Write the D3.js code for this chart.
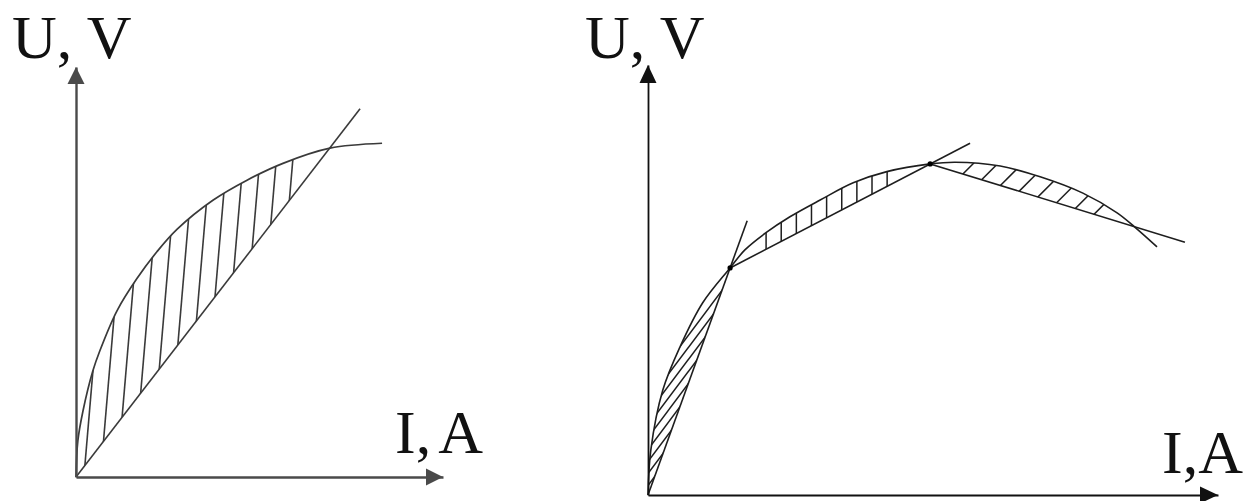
<!DOCTYPE html>
<html>
<head>
<meta charset="utf-8">
<script src="https://cdn.jsdelivr.net/npm/d3@7"></script>
<style>
  html, body { margin: 0; padding: 0; background: #fff; }
  svg { display: block; }
</style>
</head>
<body>
<svg id="chart" width="1248" height="501"></svg>
<script>
// ---- Axis labels ----
const yLabel = "U, V";
const xLabelLeft = ["I,", "A"];
const xLabelRight = "I,A";

// ---- Left diagram: U(I) characteristic and its single straight-line approximation ----
const leftCurveI = [0, 0.05, 0.19, 0.46, 0.65, 1.12, 1.66, 2.21, 2.75, 3.73, 4.66, 5.64, 6.92, 8.34];
const leftCurveU = [0, 0.88, 1.61, 2.59, 3.08, 4.06, 4.84, 5.50, 6.04, 6.75, 7.24, 7.65, 8.02, 8.14];
const leftLineI = [0, 7.74];
const leftLineU = [0, 8.98];
// I range of the shaded area between the curve and the line
const leftShadeI = [0, 6.92];

// ---- Right diagram: same kind of characteristic, piecewise-linear approximation ----
const rightCurveI = [0, 0.05, 0.26, 0.56, 0.96, 1.44, 1.70, 2.07, 2.49, 3.02, 3.60, 4.19, 4.95, 5.39, 6.18, 6.88, 7.63, 8.23, 8.54, 8.93];
const rightCurveU = [0, 1.05, 2.44, 3.44, 4.47, 5.28, 5.70, 6.10, 6.47, 6.86, 7.26, 7.52, 7.70, 7.74, 7.65, 7.40, 7.02, 6.56, 6.23, 5.77];
// each segment starts at a breakpoint and is drawn a little past the next one
const rightSegStartI = [0, 1.44, 4.95];
const rightSegStartU = [0, 5.28, 7.70];
const rightSegEndI = [1.74, 5.65, 9.42];
const rightSegEndU = [6.38, 8.18, 5.88];
// I where each segment meets the curve again (end of its shaded area)
const rightMeetI = [1.44, 4.95, 8.54];
// breakpoints marked with dots
const rightKnotI = [1.44, 4.95];
const rightKnotU = [5.28, 7.70];

const svg = d3.select("#chart");
const defs = svg.append("defs");

const zip = (a, b) => a.map((v, i) => [v, b[i]]);

function makeLine(x, y) {
  return d3.line()
    .x(p => x(p[0]))
    .y(p => y(p[1]))
    .curve(d3.curveCatmullRom.alpha(0.5));
}

// Hatching of the area enclosed by the curve between I=a..b and the straight chord
function hatch(g, id, x, y, curvePts, a, b, spec, style) {
  const pts = curvePts.filter(p => p[0] >= a - 1e-9 && p[0] <= b + 1e-9);
  defs.append("clipPath").attr("id", id)
    .append("path").attr("d", makeLine(x, y)(pts) + "Z");
  const s = [x(pts[0][0]), y(pts[0][1])];
  const e = [x(pts[pts.length - 1][0]), y(pts[pts.length - 1][1])];
  const dl = Math.hypot(spec.dir[0], spec.dir[1]);
  const ux = spec.dir[0] / dl, uy = spec.dir[1] / dl;
  const fs = d3.range(spec.n).map(k => spec.f0 + (spec.f1 - spec.f0) * k / (spec.n - 1));
  const L = 260;
  g.append("g").attr("clip-path", `url(#${id})`)
    .selectAll("line").data(fs).join("line")
    .attr("x1", f => s[0] + (e[0] - s[0]) * f - ux * L)
    .attr("y1", f => s[1] + (e[1] - s[1]) * f - uy * L)
    .attr("x2", f => s[0] + (e[0] - s[0]) * f + ux * L)
    .attr("y2", f => s[1] + (e[1] - s[1]) * f + uy * L)
    .attr("stroke", style.color)
    .attr("stroke-width", style.width);
}

function axes(g, x, y, style) {
  const ax = g.append("g").attr("transform", `translate(0,${y(0)})`)
    .call(d3.axisBottom(x).ticks(0).tickSizeOuter(0));
  const ay = g.append("g").attr("transform", `translate(${x(0)},0)`)
    .call(d3.axisLeft(y).ticks(0).tickSizeOuter(0));
  [ax, ay].forEach(a => a.select(".domain")
    .attr("stroke", style.color).attr("stroke-width", style.width));
  const xe = x.range()[1], ye = y.range()[1], x0 = x(0), y0 = y(0);
  const h = style.head, w = style.half;
  g.append("path")
    .attr("d", `M${xe},${y0}L${xe - h},${y0 - w}L${xe - h},${y0 + w}Z`)
    .attr("fill", style.color);
  g.append("path")
    .attr("d", `M${x0},${ye}L${x0 - w},${ye + h}L${x0 + w},${ye + h}Z`)
    .attr("fill", style.color);
}

function label(g, px, py, parts) {
  const t = g.append("text")
    .attr("x", px).attr("y", py)
    .attr("font-family", "'Liberation Serif', 'Times New Roman', serif")
    .attr("font-size", 62)
    .attr("fill", "#111");
  if (typeof parts === "string") t.text(parts);
  else {
    t.append("tspan").text(parts[0]);
    t.append("tspan").attr("dx", 7).text(parts[1]);
  }
}

// ================= Left diagram =================
{
  const g = svg.append("g");
  const x = d3.scaleLinear().domain([0, 10]).range([76, 443]);
  const y = d3.scaleLinear().domain([0, 10]).range([477, 67]);
  const curve = zip(leftCurveI, leftCurveU);
  const ink = "#3a3a3a";

  hatch(g, "clipL", x, y, curve, leftShadeI[0], leftShadeI[1],
        { n: 12, f0: 0.035, f1: 0.84, dir: [0.085, -1] },
        { color: ink, width: 1.6 });

  g.append("path").attr("d", makeLine(x, y)(curve))
    .attr("fill", "none").attr("stroke", ink).attr("stroke-width", 1.7);
  g.append("path").attr("d", d3.line().x(p => x(p[0])).y(p => y(p[1]))(zip(leftLineI, leftLineU)))
    .attr("fill", "none").attr("stroke", ink).attr("stroke-width", 1.6);

  axes(g, x, y, { color: "#4a4a4a", width: 2.4, head: 17, half: 8.5 });

  label(g, x(0) - 64, y(10) - 9, yLabel);
  label(g, x(10) - 48, y(0) - 24, xLabelLeft);
}

// ================= Right diagram =================
{
  const g = svg.append("g");
  const x = d3.scaleLinear().domain([0, 10]).range([648, 1218]);
  const y = d3.scaleLinear().domain([0, 10]).range([495, 65]);
  const curve = zip(rightCurveI, rightCurveU);
  const ink = "#1e1e1e";

  const specs = [
    { n: 9, f0: 0.08, f1: 0.9, dir: [0.75, -1] },
    { n: 9, f0: 0.18, f1: 0.785, dir: [0, -1] },
    { n: 8, f0: 0.16, f1: 0.8, dir: [1, -1] }
  ];
  rightMeetI.forEach((m, i) => {
    hatch(g, "clipR" + i, x, y, curve, rightSegStartI[i], m, specs[i],
          { color: ink, width: 1.5 });
  });

  g.append("path").attr("d", makeLine(x, y)(curve))
    .attr("fill", "none").attr("stroke", ink).attr("stroke-width", 1.6);

  const seg = d3.line().x(p => x(p[0])).y(p => y(p[1]));
  rightSegStartI.forEach((s, i) => {
    g.append("path")
      .attr("d", seg([[s, rightSegStartU[i]], [rightSegEndI[i], rightSegEndU[i]]]))
      .attr("fill", "none").attr("stroke", ink).attr("stroke-width", 1.6);
  });

  g.selectAll("circle.knot").data(zip(rightKnotI, rightKnotU)).join("circle")
    .attr("class", "knot")
    .attr("cx", d => x(d[0])).attr("cy", d => y(d[1])).attr("r", 2.6)
    .attr("fill", "#000");

  axes(g, x, y, { color: "#111", width: 1.8, head: 18, half: 8.5 });

  label(g, x(0) - 63, y(10) - 7, yLabel);
  label(g, x(10) - 56, y(0) - 22, xLabelRight);
}
</script>
</body>
</html>
